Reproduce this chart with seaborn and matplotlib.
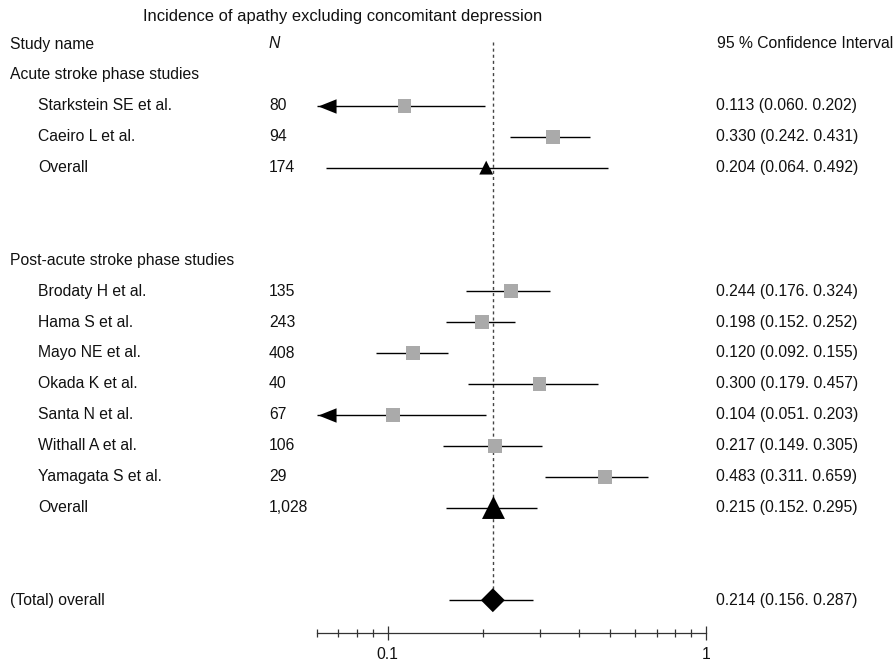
import numpy as np
import pandas as pd
import matplotlib
matplotlib.use("Agg")
import matplotlib.pyplot as plt
import matplotlib.transforms as mtransforms
from matplotlib.path import Path
import seaborn as sns

sns.set_theme(style="white")
plt.rcParams['font.family'] = ['Liberation Sans', 'DejaVu Sans']

# ---------------- data ----------------
study_names = ["Starkstein SE et al.", "Caeiro L et al.", "Overall",
               "Brodaty H et al.", "Hama S et al.", "Mayo NE et al.", "Okada K et al.",
               "Santa N et al.", "Withall A et al.", "Yamagata S et al.", "Overall",
               "(Total) overall"]
study_rows = [2, 3, 4, 8, 9, 10, 11, 12, 13, 14, 15, 18]
study_n = ["80", "94", "174", "135", "243", "408", "40", "67", "106", "29", "1,028", ""]
estimate = [0.113, 0.330, 0.204, 0.244, 0.198, 0.120, 0.300, 0.104, 0.217, 0.483, 0.215, 0.214]
lower = [0.060, 0.242, 0.064, 0.176, 0.152, 0.092, 0.179, 0.051, 0.149, 0.311, 0.152, 0.156]
upper = [0.202, 0.431, 0.492, 0.324, 0.252, 0.155, 0.457, 0.203, 0.305, 0.659, 0.295, 0.287]
kind = ["study", "study", "subtotal", "study", "study", "study", "study",
        "study", "study", "study", "subtotal_big", "total"]
ci_labels = ["0.113 (0.060. 0.202)", "0.330 (0.242. 0.431)", "0.204 (0.064. 0.492)",
             "0.244 (0.176. 0.324)", "0.198 (0.152. 0.252)", "0.120 (0.092. 0.155)",
             "0.300 (0.179. 0.457)", "0.104 (0.051. 0.203)", "0.217 (0.149. 0.305)",
             "0.483 (0.311. 0.659)", "0.215 (0.152. 0.295)", "0.214 (0.156. 0.287)"]
group_labels = ["Acute stroke phase studies", "Post-acute stroke phase studies"]
group_rows = [1, 7]
x_min, x_max = 0.06, 1.0
total_effect = 0.214
tick_values = [0.1, 1]
tick_labels = ["0.1", "1"]

df = pd.DataFrame(dict(name=study_names, row=study_rows, n=study_n, est=estimate,
                       lo=lower, hi=upper, kind=kind, ci=ci_labels))

# ---------------- figure ----------------
W, H = 895, 661
fig = plt.figure(figsize=(W / 100, H / 100), dpi=100)
ax_left, ax_right = 317 / W, 706 / W
ax_top_px, ax_bot_px = 30, 633
ax = fig.add_axes([ax_left, 1 - ax_bot_px / H, ax_right - ax_left, (ax_bot_px - ax_top_px) / H])
row_px0, row_step = 44, 30.9
ax.set_xscale("log")
ax.set_xlim(x_min, x_max)
ax.set_ylim((ax_bot_px - row_px0) / row_step, (ax_top_px - row_px0) / row_step)
ax.set_facecolor("none")
for s in ["top", "left", "right"]:
    ax.spines[s].set_visible(False)
ax.spines["bottom"].set_color("#333333")
ax.spines["bottom"].set_linewidth(0.9)
ax.set_yticks([])
ax.set_xticks(tick_values)
ax.set_xticklabels(tick_labels)
ax.set_xticks([0.06, 0.07, 0.08, 0.09] + [i / 10 for i in range(2, 10)], minor=True)
ax.xaxis.set_minor_formatter(matplotlib.ticker.NullFormatter())
ax.tick_params(axis="x", which="major", direction="inout", length=9.5, width=0.9,
               color="#333333", labelsize=11.3, labelcolor="#111111", pad=5, bottom=True)
ax.tick_params(axis="x", which="minor", direction="inout", length=6, width=0.9,
               color="#333333", bottom=True)

# dashed reference line
ax.plot([total_effect, total_effect], [-0.07, 18], ls=(0, (2.2, 2.2)), color="#444444",
        lw=1.0, zorder=1)

# CI lines and arrows
arrow = Path([(0, 0), (1.25, 0.5), (1.25, -0.5), (0, 0)],
             [Path.MOVETO, Path.LINETO, Path.LINETO, Path.CLOSEPOLY])
for _, r in df.iterrows():
    lo = max(r.lo, x_min)
    ax.plot([lo, r.hi], [r.row, r.row], color="black", lw=1.0, zorder=2, solid_capstyle="butt")
    if r.lo <= x_min + 1e-9:
        ax.plot([x_min * 1.005], [r.row], marker=arrow, ms=26, color="black", mew=0, zorder=3)

# markers via seaborn
studies = df[df.kind == "study"]
sns.scatterplot(data=studies, x="est", y="row", marker="s", s=100, color="#aaaaaa",
                edgecolor="none", linewidth=0, ax=ax, zorder=4, legend=False)
sub = df[df.kind == "subtotal"]
sns.scatterplot(data=sub, x="est", y="row", marker="^", s=100, color="black",
                edgecolor="none", linewidth=0, ax=ax, zorder=4, legend=False)
sub2 = df[df.kind == "subtotal_big"]
sns.scatterplot(data=sub2, x="est", y="row", marker="^", s=16.5 ** 2, color="black",
                edgecolor="none", linewidth=0, ax=ax, zorder=4, legend=False)
tot = df[df.kind == "total"]
sns.scatterplot(data=tot, x="est", y="row", marker="D", s=12.2 ** 2, color="black",
                edgecolor="none", linewidth=0, ax=ax, zorder=4, legend=False)
ax.set_xlabel("")
ax.set_ylabel("")

# ---------------- text columns ----------------
tr = mtransforms.blended_transform_factory(fig.transFigure, ax.transData)
fs = 11.3
x_name, x_indent, x_n, x_ci = 10 / W, 38 / W, 269 / W, 716 / W
kw = dict(transform=tr, va="center", fontsize=fs, color="#111111", clip_on=False)
ax.text(x_name, 0, "Study name", ha="left", **kw)
ax.text(x_n, 0, "N", ha="left", fontstyle="italic", **kw)
ax.text(893 / W, 0, "95 % Confidence Interval", ha="right", **kw)
for lab, rr in zip(group_labels, group_rows):
    ax.text(x_name, rr, lab, ha="left", **kw)
for _, r in df.iterrows():
    xn = x_name if r.kind == "total" else x_indent
    ax.text(xn, r.row, r["name"], ha="left", **kw)
    if r.n:
        ax.text(x_n, r.row, r.n, ha="left", **kw)
    ax.text(x_ci, r.row, r.ci, ha="left", **kw)

fig.text(343 / W, 1 - 17 / H, "Incidence of apathy excluding concomitant depression",
         ha="center", va="center", fontsize=11.9, color="#111111")

fig.savefig("out.png", dpi=100)
